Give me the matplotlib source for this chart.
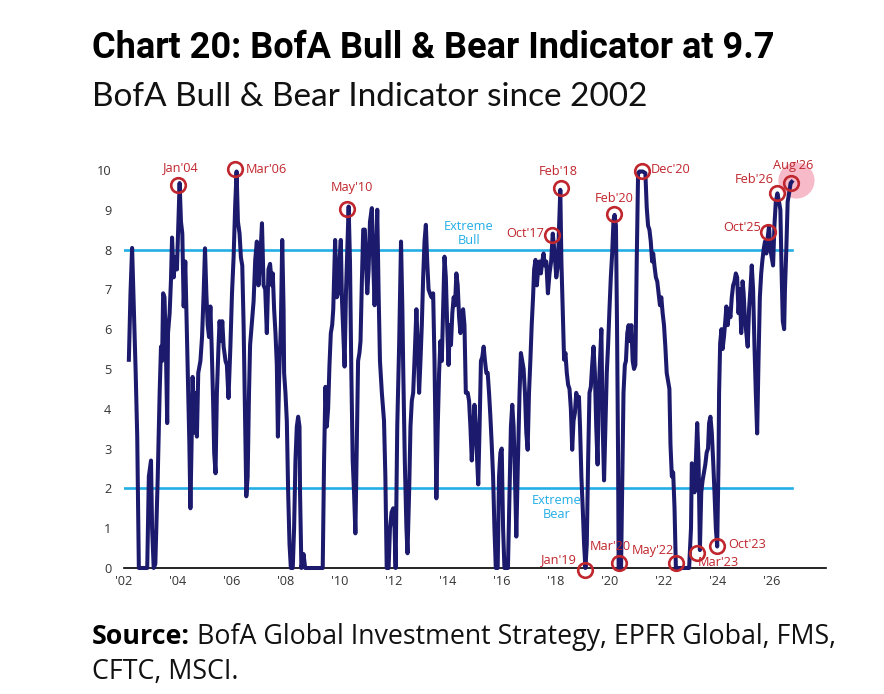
import matplotlib
matplotlib.use("Agg")
import matplotlib.pyplot as plt

# ---------------- data ----------------
years = [
    2002.18, 2002.24, 2002.30, 2002.36, 2002.43, 2002.49, 2002.55, 2002.86, 2002.92, 2003.00,
    2003.04, 2003.10, 2003.16, 2003.25, 2003.32, 2003.37, 2003.41, 2003.45, 2003.50, 2003.55,
    2003.60, 2003.63, 2003.69, 2003.74, 2003.78, 2003.84, 2003.90, 2003.96, 2004.03, 2004.06,
    2004.11, 2004.16, 2004.21, 2004.27, 2004.31, 2004.36, 2004.42, 2004.46, 2004.51, 2004.54,
    2004.61, 2004.65, 2004.70, 2004.75, 2004.83, 2004.89, 2004.95, 2005.00, 2005.05, 2005.10,
    2005.15, 2005.20, 2005.25, 2005.30, 2005.34, 2005.39, 2005.44, 2005.50, 2005.54, 2005.59,
    2005.64, 2005.69, 2005.76, 2005.81, 2005.87, 2005.94, 2006.00, 2006.06, 2006.12, 2006.17,
    2006.22, 2006.28, 2006.33, 2006.38, 2006.43, 2006.49, 2006.53, 2006.58, 2006.63, 2006.67,
    2006.74, 2006.80, 2006.86, 2006.92, 2006.98, 2007.04, 2007.11, 2007.17,
    2007.23, 2007.29, 2007.35, 2007.41, 2007.48, 2007.51, 2007.56, 2007.61, 2007.66, 2007.70,
    2007.75, 2007.81, 2007.86, 2007.91, 2007.93, 2007.98, 2008.03, 2008.08, 2008.13, 2008.18,
    2008.25, 2008.30, 2008.35, 2008.40, 2008.45, 2008.50, 2008.52, 2008.57, 2008.65, 2008.71,
    2009.36, 2009.41, 2009.46, 2009.51, 2009.56, 2009.61, 2009.66, 2009.71, 2009.75, 2009.82,
    2009.88, 2009.93, 2009.98, 2010.03, 2010.07, 2010.12, 2010.17, 2010.22, 2010.27, 2010.32,
    2010.37, 2010.42, 2010.47, 2010.52, 2010.57, 2010.62, 2010.67, 2010.72, 2010.76, 2010.81,
    2010.86, 2010.92, 2010.96, 2011.01, 2011.06, 2011.11, 2011.18, 2011.23, 2011.28, 2011.33,
    2011.38, 2011.43, 2011.48, 2011.55, 2011.63, 2011.68, 2011.73, 2011.80, 2011.85, 2011.91,
    2011.97, 2012.02, 2012.06, 2012.12, 2012.19, 2012.26, 2012.31, 2012.34, 2012.40, 2012.46,
    2012.50, 2012.56, 2012.61, 2012.66, 2012.71, 2012.77, 2012.83, 2012.88, 2012.93, 2012.98,
    2013.03, 2013.08, 2013.13, 2013.18, 2013.23, 2013.28, 2013.33, 2013.39, 2013.45, 2013.50,
    2013.55, 2013.57, 2013.62, 2013.67, 2013.72, 2013.77, 2013.82, 2013.87, 2013.92, 2013.97,
    2014.02, 2014.07, 2014.11, 2014.16, 2014.21, 2014.26, 2014.31, 2014.36, 2014.41, 2014.46,
    2014.51, 2014.56, 2014.61, 2014.66, 2014.73, 2014.78, 2014.83, 2014.88, 2014.93, 2014.98,
    2015.03, 2015.08, 2015.12, 2015.17, 2015.22, 2015.27, 2015.32, 2015.37, 2015.42, 2015.47,
    2015.52, 2015.57, 2015.62, 2015.67, 2015.72, 2015.77, 2015.84, 2015.89, 2015.94, 2015.99,
    2016.04, 2016.09, 2016.22, 2016.28, 2016.33, 2016.38, 2016.43, 2016.48, 2016.53, 2016.59,
    2016.65, 2016.70, 2016.75, 2016.80, 2016.85, 2016.90, 2016.95, 2017.00, 2017.05, 2017.10,
    2017.15, 2017.19, 2017.24, 2017.29, 2017.34, 2017.39, 2017.44, 2017.49, 2017.54,
    2017.58, 2017.64, 2017.70, 2017.76, 2017.82, 2017.88, 2017.95, 2018.01, 2018.07, 2018.11,
    2018.16, 2018.20, 2018.25, 2018.30, 2018.35, 2018.40, 2018.45, 2018.50, 2018.55, 2018.60,
    2018.65, 2018.70, 2018.75, 2018.80, 2018.85, 2018.89, 2018.94, 2018.99, 2019.04, 2019.09,
    2019.14, 2019.19, 2019.24, 2019.29, 2019.34, 2019.39, 2019.44, 2019.49, 2019.54, 2019.58,
    2019.63, 2019.68, 2019.73, 2019.78, 2019.83, 2019.88, 2019.93, 2019.98, 2020.03, 2020.08,
    2020.13, 2020.17, 2020.22, 2020.26, 2020.30, 2020.32, 2020.41, 2020.45, 2020.50, 2020.55,
    2020.59, 2020.64, 2020.69, 2020.74, 2020.79, 2020.84, 2020.89, 2020.94, 2020.99, 2021.04,
    2021.09, 2021.21, 2021.31, 2021.36, 2021.41, 2021.46, 2021.51, 2021.56, 2021.60, 2021.65,
    2021.70, 2021.75, 2021.80, 2021.85, 2021.90, 2021.95, 2022.00, 2022.05, 2022.10, 2022.15,
    2022.20, 2022.24, 2022.29, 2022.34, 2022.39, 2022.44, 2022.93,
    2023.00, 2023.03, 2023.08, 2023.13, 2023.18, 2023.23, 2023.28, 2023.33, 2023.38, 2023.43,
    2023.48, 2023.53, 2023.58, 2023.63, 2023.67, 2023.72, 2023.77, 2023.82, 2023.87, 2023.92,
    2023.97, 2024.02, 2024.04, 2024.08, 2024.13, 2024.17, 2024.22, 2024.27, 2024.31, 2024.36,
    2024.41, 2024.46, 2024.51, 2024.56, 2024.61, 2024.66, 2024.71, 2024.76, 2024.81, 2024.86,
    2024.91, 2024.95, 2025.00, 2025.05, 2025.10, 2025.15, 2025.20, 2025.25, 2025.30, 2025.35,
    2025.40, 2025.45, 2025.50, 2025.55, 2025.60, 2025.64, 2025.69, 2025.74, 2025.79, 2025.84,
    2025.89, 2025.94, 2025.99, 2026.04, 2026.09, 2026.14, 2026.20, 2026.26, 2026.31, 2026.36,
    2026.40, 2026.45, 2026.48, 2026.53, 2026.58, 2026.63, 2026.69, 2026.73,
]
values = [
    5.23, 6.9, 8.04, 6.65, 4.97, 3.3, 0.0, 0.0, 2.3, 2.7,
    1.0, 0.0, 0.1, 2.3, 4.4, 5.56, 5.2, 6.9, 6.8, 5.56,
    3.64, 5.9, 6.4, 7.24, 8.3, 7.3, 7.8, 7.5, 9.0, 9.67,
    8.7, 8.4, 6.57, 7.7, 6.5, 5.06, 3.14, 1.5, 3.4, 4.8,
    3.4, 4.4, 3.3, 4.9, 5.2, 5.8, 6.9, 8.03, 6.9, 6.1,
    5.8, 6.57, 5.5, 4.2, 2.9, 2.38, 4.4, 5.56, 6.2, 5.7,
    6.2, 5.56, 5.2, 5.1, 4.27, 5.56, 6.9, 7.82, 9.15, 9.96,
    8.7, 8.4, 7.8, 7.6, 6.1, 3.55, 1.8, 2.3, 4.4, 5.6,
    6.2, 6.7, 7.74, 8.2, 7.1, 7.7, 8.66, 7.1,
    7.0, 5.9, 7.5, 7.64, 7.1, 7.4, 6.5, 5.9, 5.1, 3.3,
    4.9, 6.1, 8.24, 6.5, 4.9, 4.4, 3.7, 1.9, 0.6, 0.0,
    0.0, 1.0, 2.7, 3.55, 3.8, 3.55, 1.9, 0.0, 0.35, 0.0,
    0.0, 2.7, 4.55, 3.55, 4.0, 5.1, 5.9, 6.1, 6.5, 8.24,
    6.8, 6.9, 7.7, 8.24, 6.8, 5.9, 5.06, 6.9, 8.0, 9.08,
    7.7, 4.9, 2.7, 1.9, 0.87, 3.1, 5.2, 5.4, 5.7, 7.2,
    8.5, 8.5, 7.7, 6.9, 7.5, 8.7, 9.04, 7.7, 6.6, 7.7,
    9.0, 6.9, 5.2, 4.4, 3.7, 2.3, 0.0, 0.0, 1.0, 1.4,
    1.5, 1.0, 0.0, 3.55, 5.6, 8.2, 6.5, 5.06, 2.7, 1.0,
    0.37, 1.9, 3.55, 4.2, 4.4, 5.4, 6.5, 5.6, 4.4, 5.2,
    6.1, 7.3, 8.2, 8.62, 7.7, 7.0, 6.9, 6.8, 6.9, 5.2,
    2.7, 1.75, 3.55, 4.9, 5.7, 5.2, 6.5, 7.82, 7.3, 6.1,
    5.1, 6.1, 5.6, 6.4, 6.8, 6.6, 7.4, 7.1, 6.3, 5.9,
    6.4, 6.5, 6.1, 4.4, 4.4, 4.2, 3.55, 2.7, 3.4, 4.1,
    3.55, 2.7, 2.1, 3.55, 5.2, 5.3, 5.56, 5.2, 4.9, 4.9,
    4.4, 3.8, 3.1, 2.3, 1.0, 0.0, 0.0, 2.3, 2.9, 3.0,
    1.0, 0.0, 0.0, 1.9, 3.55, 4.1, 3.55, 2.3, 0.79, 2.7,
    4.4, 5.4, 5.2, 5.0, 4.4, 3.4, 2.97, 4.4, 5.2, 6.1,
    6.8, 7.5, 7.74, 7.1, 7.5, 7.7, 7.4, 7.7, 7.9,
    7.6, 7.7, 6.9, 7.4, 7.7, 8.4, 7.9, 7.3, 7.6, 8.5,
    9.5, 7.7, 6.5, 5.23, 5.4, 4.9, 4.6, 4.5, 4.0, 2.97,
    3.7, 3.9, 4.4, 4.2, 4.3, 3.55, 2.3, 1.5, 0.6, 0.0,
    0.6, 2.7, 4.4, 4.55, 5.1, 5.56, 4.9, 3.55, 2.6, 4.4,
    5.2, 6.0, 3.55, 2.2, 3.55, 4.9, 5.6, 6.5, 7.3, 7.9,
    8.74, 8.87, 8.6, 6.1, 2.7, 0.0, 0.0, 1.9, 4.4, 5.1,
    5.2, 5.9, 6.1, 5.7, 6.1, 5.2, 5.0, 5.1, 7.7, 9.92,
    9.96, 9.96, 9.92, 9.06, 8.6, 8.5, 8.2, 7.7, 7.9, 7.57,
    7.3, 7.2, 6.9, 6.6, 6.8, 6.4, 6.1, 5.56, 4.9, 4.7,
    4.5, 3.1, 2.3, 2.4, 1.5, 0.0, 0.0,
    1.0, 2.63, 2.55, 1.9, 2.7, 3.64, 2.7, 0.45, 1.9, 2.2,
    2.4, 2.6, 2.9, 3.0, 3.64, 3.8, 3.4, 2.7, 1.9, 1.0,
    0.54, 2.7, 4.4, 5.65, 6.0, 5.5, 5.8, 6.2, 6.57, 6.1,
    6.5, 6.3, 6.8, 7.1, 7.2, 7.4, 7.3, 6.4, 7.0, 5.9,
    7.2, 6.9, 6.2, 5.9, 5.56, 6.5, 7.0, 7.6, 7.0, 5.6,
    4.4, 3.38, 5.2, 6.8, 7.4, 7.7, 8.0, 8.2, 7.9, 8.3,
    8.58, 8.0, 7.8, 7.6, 8.6, 9.2, 9.41, 9.2, 9.0, 7.3,
    6.2, 6.0, 7.0, 8.0, 9.2, 9.4, 9.67, 9.7,
]

tick_years = list(range(2002, 2027, 2))
tick_labels = ["'02", "'04", "'06", "'08", "'10", "'12", "'14", "'16", "'18", "'20", "'22", "'24", "'26"]
y_ticks = list(range(0, 11))

bull_level = 8
bear_level = 2

# annotated points: label, circle x, circle y
marks = ["Jan'04", "Mar'06", "May'10", "Oct'17", "Feb'18", "Feb'20", "Dec'20",
         "Oct'25", "Feb'26", "Aug'26", "Jan'19", "Mar'20", "May'22", "Mar'23", "Oct'23"]
mark_x = [2003.99, 2006.12, 2010.27, 2017.86, 2018.17, 2020.16, 2021.19,
          2025.87, 2026.18, 2026.72, 2019.08, 2020.32, 2022.44, 2023.24, 2023.98]
mark_y = [9.62, 10.02, 9.02, 8.37, 9.54, 8.89, 9.98,
          8.43, 9.41, 9.67, -0.05, 0.12, 0.12, 0.38, 0.55]

# ---------------- styling / layout ----------------
NAVY = "#1c1a6c"
CYAN = "#22aee5"
RED = "#c0262d"
W, H = 884, 694

# label placement (x, y in data units, horizontal alignment)
label_pos = {
    "Jan'04": (2004.09, 10.05, "center"),
    "Mar'06": (2006.50, 10.00, "left"),
    "May'10": (2010.44, 9.55, "center"),
    "Oct'17": (2017.57, 8.39, "right"),
    "Feb'18": (2018.09, 9.97, "center"),
    "Feb'20": (2020.16, 9.27, "center"),
    "Dec'20": (2021.50, 10.00, "left"),
    "Oct'25": (2025.60, 8.55, "right"),
    "Feb'26": (2026.07, 9.75, "right"),
    "Aug'26": (2026.78, 10.10, "center"),
    "Jan'19": (2018.76, 0.20, "right"),
    "Mar'20": (2020.02, 0.53, "center"),
    "May'22": (2021.57, 0.43, "center"),
    "Mar'23": (2024.00, 0.13, "center"),
    "Oct'23": (2024.38, 0.60, "left"),
}

fig = plt.figure(figsize=(W / 100, H / 100), dpi=100)
fig.patch.set_facecolor("white")
renderer = fig.canvas.get_renderer()

ax = fig.add_axes([124 / W, 1 - 568 / H, (826 - 124) / W, (568 - 150) / H])
ax.set_xlim(2002, 2028)
ax.set_ylim(0, 10.5)

ax.plot([2002, 2026.75], [bull_level, bull_level], color=CYAN, lw=1.9, zorder=1)
ax.plot([2002, 2026.75], [bear_level, bear_level], color=CYAN, lw=1.9, zorder=1)

ax.plot(years, values, color=NAVY, lw=2.9, solid_joinstyle="round", zorder=3, clip_on=False)

# pink halo on latest reading
ax.plot([2026.88], [9.75], "o", ms=26, color="#f5a3b8", alpha=0.75, mec="none", zorder=2, clip_on=False)

ax.plot(mark_x, mark_y, "o", ms=10.5, mfc="none", mec=RED, mew=1.9, zorder=4, clip_on=False)
for lab in marks:
    lx, ly, ha = label_pos[lab]
    ax.text(lx, ly, lab, color=RED, fontsize=9.2, ha=ha, va="center", family="Open Sans", zorder=5)

ax.text(2014.77, 8.39, "Extreme\nBull", color=CYAN, fontsize=9.2, ha="center", va="center",
        family="Open Sans", linespacing=1.1)
ax.text(2018.03, 1.53, "Extreme\nBear", color=CYAN, fontsize=9.2, ha="center", va="center",
        family="Open Sans", linespacing=1.1)

for s in ["left", "right", "top"]:
    ax.spines[s].set_visible(False)
ax.spines["bottom"].set_color("black")
ax.spines["bottom"].set_linewidth(1.2)
ax.set_xticks(tick_years)
ax.set_xticklabels(tick_labels)
ax.set_yticks(y_ticks)
ax.tick_params(axis="both", length=0, labelsize=9.2, colors="#333333")
ax.tick_params(axis="y", pad=9)
ax.tick_params(axis="x", pad=5)
for t in ax.get_xticklabels() + ax.get_yticklabels():
    t.set_family("Open Sans")


def fit_text(x_px, y_px, s, target_w, **kw):
    t = fig.text(x_px / W, 1 - y_px / H, s, fontsize=20, va="baseline", ha="left", **kw)
    w = t.get_window_extent(renderer).width
    t.set_fontsize(20 * target_w / w)
    return t


fit_text(92, 58, "Chart 20: BofA Bull & Bear Indicator at 9.7", 680,
         family="Roboto", fontweight="bold", color="black")
fit_text(92, 106, "BofA Bull & Bear Indicator since 2002", 556,
         family="Lato", fontweight="normal", color="#111111")

# source line: bold "Source:" + regular remainder, scaled together
fs0 = 20
t1 = fig.text(92 / W, 1 - 644 / H, "Source:", fontsize=fs0, fontweight="bold",
              family="Open Sans", va="baseline", ha="left", color="black")
rest = " BofA Global Investment Strategy, EPFR Global, FMS,"
t2 = fig.text(0, 1 - 644 / H, rest, fontsize=fs0, family="Open Sans",
              va="baseline", ha="left", color="#111111")
w1 = t1.get_window_extent(renderer).width
w2 = t2.get_window_extent(renderer).width
scale = (835 - 92) / (w1 + w2)
t1.set_fontsize(fs0 * scale)
t2.set_fontsize(fs0 * scale)
w1 = t1.get_window_extent(renderer).width
t2.set_x((92 + w1) / W)
fig.text(92 / W, 1 - 679 / H, "CFTC, MSCI.", fontsize=fs0 * scale, family="Open Sans",
         va="baseline", ha="left", color="#111111")

fig.savefig("out.png", dpi=100, facecolor="white")
